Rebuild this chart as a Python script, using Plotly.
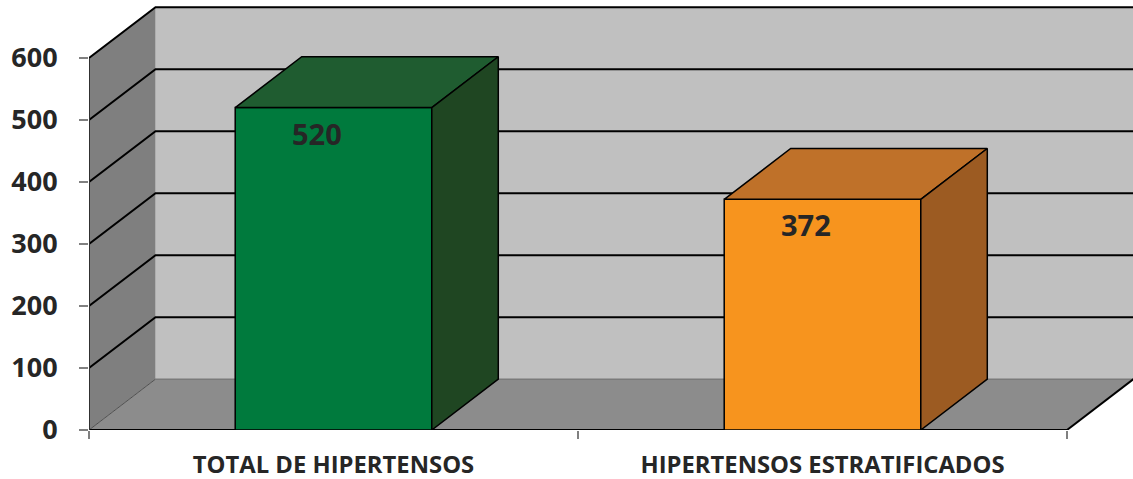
import plotly.graph_objects as go

# ---- data ----
categories = ["TOTAL DE HIPERTENSOS", "HIPERTENSOS ESTRATIFICADOS"]
values = [520, 372]
y_ticks = [0, 100, 200, 300, 400, 500, 600]

# ---- style ----
front_colors = ["#007A3D", "#F7941E"]
top_colors = ["#1F5C30", "#BF7129"]
side_colors = ["#1F4622", "#9C5B22"]
WALL = "#C0C0C0"
SIDE = "#7F7F7F"
FLOOR = "#8C8C8C"
TXT = "#262626"
FONT = "Open Sans"

YMAXV = max(y_ticks)
DX = 0.136      # depth offset (category units)
DY = 82         # depth offset (value units)
HW = 0.201      # bar half width
X0, X1 = -0.5, len(categories) - 0.5

fig = go.Figure()


def poly(xs, ys, fill, line_color=None, lw=0):
    fig.add_trace(go.Scatter(
        x=xs + [xs[0]], y=ys + [ys[0]], mode="lines", fill="toself",
        fillcolor=fill, hoverinfo="skip", showlegend=False,
        line=dict(color=line_color or fill, width=lw)))


def seg(xs, ys, color, lw):
    fig.add_trace(go.Scatter(x=xs, y=ys, mode="lines", hoverinfo="skip",
                             showlegend=False, line=dict(color=color, width=lw)))


# back wall
poly([X0 + DX, X1 + DX, X1 + DX, X0 + DX], [DY, DY, YMAXV + DY, YMAXV + DY], WALL)
# side wall
poly([X0, X0, X0 + DX, X0 + DX], [0, YMAXV, YMAXV + DY, DY], SIDE)

# gridlines on walls
for v in y_ticks[1:]:
    seg([X0, X0 + DX, X1 + DX], [v, v + DY, v + DY], "#000000", 2)

# floor
poly([X0, X0 + DX, X1 + DX, X1], [0, DY, DY, 0], FLOOR)
seg([X0 + DX, X1 + DX], [DY, DY], "#7A7A7A", 1.5)
seg([X0, X0 + DX], [0, DY], "#505050", 1)
seg([X1, X1 + DX], [0, DY], "#000000", 2)
seg([X0, X1], [0, 0], "#000000", 2)
# left edge of side wall
seg([X0, X0], [0, YMAXV], "#303030", 2)

# bars
for i, v in enumerate(values):
    c = i
    l, r = c - HW, c + HW
    poly([l, r, r, l], [0, 0, v, v], front_colors[i], "#000000", 1.5)
    poly([l, r, r + DX, l + DX], [v, v, v + DY, v + DY], top_colors[i], "#000000", 1.5)
    poly([r, r + DX, r + DX, r], [0, DY, v + DY, v], side_colors[i], "#000000", 1.5)

# data labels
fig.add_trace(go.Scatter(
    x=[i - 0.034 for i in range(len(values))],
    y=[v - 48 for v in values],
    mode="text", text=[str(v) for v in values],
    textfont=dict(family=FONT, size=29, color=TXT, weight="bold"),
    hoverinfo="skip", showlegend=False, cliponaxis=False))

fig.update_layout(
    width=1133, height=479,
    margin=dict(l=89, r=0, t=5, b=49, autoexpand=False),
    paper_bgcolor="white", plot_bgcolor="white",
    xaxis=dict(
        range=[X0, X0 + 1044 / 489], automargin=False,
        tickmode="array", tickvals=list(range(len(categories))), ticktext=categories,
        ticks="", showgrid=False, zeroline=False, showline=False,
        tickfont=dict(family=FONT, size=23.8, color=TXT, weight="bold"),
        ticklabelstandoff=18,
        minor=dict(tickmode="array", tickvals=[X0 + k for k in range(len(categories) + 1)],
                   ticks="outside", ticklen=8, tickcolor="#808080", tickwidth=1.5,
                   showgrid=False),
        fixedrange=True),
    yaxis=dict(
        range=[0, 425 / 0.62], automargin=False,
        tickmode="array", tickvals=y_ticks, ticktext=[str(t) for t in y_ticks],
        ticks="outside", ticklen=9, tickcolor="#808080", tickwidth=1.5,
        showgrid=False, zeroline=False, showline=False,
        tickfont=dict(family=FONT, size=27, color=TXT, weight="bold"),
        ticklabelstandoff=16,
        fixedrange=True),
)

fig.write_html("out.html", config={"displayModeBar": False},
               post_script="document.body.style.margin='0';document.body.style.padding='0';")
